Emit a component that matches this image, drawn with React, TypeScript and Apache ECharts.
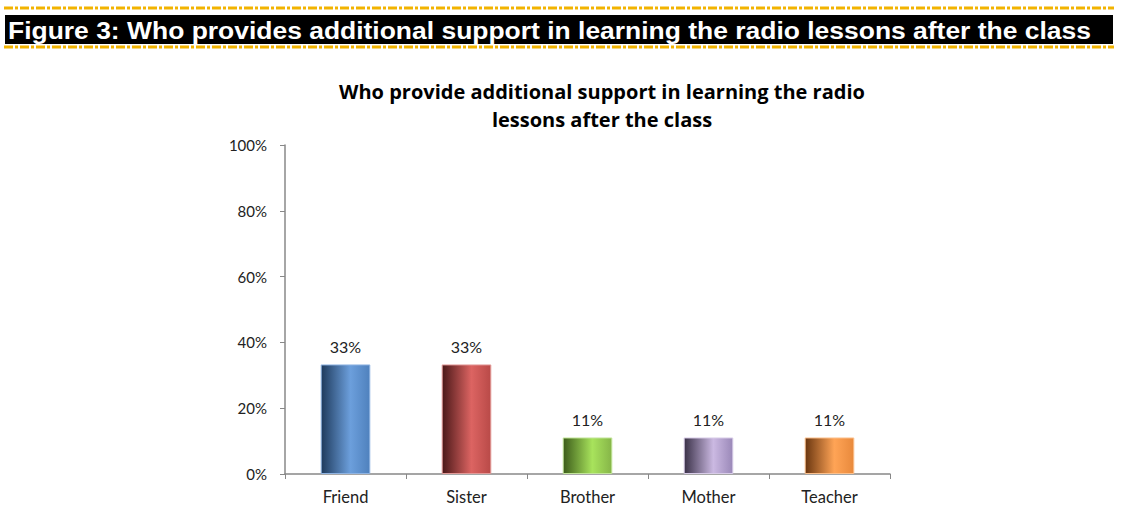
import React, { useEffect, useRef } from "react";
import * as echarts from "echarts";

const categories = ["Friend", "Sister", "Brother", "Mother", "Teacher"];
const values = [33.3, 33.3, 11.1, 11.1, 11.1];
const yTicks = [0, 20, 40, 60, 80, 100];
const figureTitle = "Figure 3: Who provides additional support in learning the radio lessons after the class";
const chartTitle = "Who provide additional support in learning the radio\nlessons after the class";

const barColors = [
  ["#1e3a5c", "#6c9fdc", "#4f81bd"],
  ["#4a1818", "#dc6462", "#b94a48"],
  ["#3c5c1a", "#a8e35c", "#86b548"],
  ["#3a3148", "#cbb9e2", "#9a88b8"],
  ["#6a3610", "#ffa456", "#e8893c"],
];
const borderColors = ["#8fb4e3", "#e39a98", "#c2e59a", "#d8cce8", "#fcc08c"];

const labelFont = "Lato, 'Open Sans', sans-serif";

export default function App() {
  const ref = useRef<HTMLDivElement>(null);
  useEffect(() => {
    const chart = echarts.init(ref.current!, null, { renderer: "svg" });
    const dash = (y: number) => ({
      type: "line",
      shape: { x1: 4, y1: y, x2: 1114, y2: y },
      style: { stroke: "#f2b300", lineWidth: 3, lineDash: [9, 2, 3, 2] },
    });
    chart.setOption({
      animation: false,
      graphic: [
        dash(8),
        dash(47),
        { type: "rect", shape: { x: 5, y: 15, width: 1108, height: 29 }, style: { fill: "#000" } },
        {
          type: "text",
          x: 8,
          y: 30,
          scaleX: 1.08,
          style: {
            text: figureTitle,
            fill: "#fff",
            font: "bold 24.5px 'Liberation Sans', Arial, sans-serif",
            verticalAlign: "middle",
          },
        },
      ],
      title: {
        text: chartTitle,
        left: 597,
        textAlign: "center",
        top: 72,
        textStyle: {
          fontFamily: "'Open Sans', sans-serif",
          fontWeight: "bold",
          fontSize: 20,
          lineHeight: 28,
          color: "#000",
        },
      },
      grid: { left: 285, right: 234, top: 145, bottom: 46, containLabel: false },
      xAxis: {
        type: "category",
        data: categories,
        axisLine: { lineStyle: { color: "#888", width: 1.5 } },
        axisTick: { show: true, length: 5, lineStyle: { color: "#888" } },
        axisLabel: { color: "#222", fontSize: 16.5, fontFamily: labelFont, margin: 14 },
      },
      yAxis: {
        type: "value",
        min: 0,
        max: 100,
        interval: 20,
        splitLine: { show: false },
        axisLine: { show: true, lineStyle: { color: "#888", width: 1.5 } },
        axisTick: { show: true, length: 5, inside: false, lineStyle: { color: "#888" } },
        axisLabel: {
          color: "#222",
          fontSize: 15,
          fontFamily: labelFont,
          margin: 18,
          formatter: (v: number) => (yTicks.includes(v) ? v + "%" : ""),
        },
      },
      series: [
        {
          type: "bar",
          barWidth: "41%",
          data: values.map((v, i) => ({
            value: v,
            itemStyle: {
              color: new echarts.graphic.LinearGradient(0, 0, 1, 0, [
                { offset: 0, color: barColors[i][0] },
                { offset: 0.6, color: barColors[i][1] },
                { offset: 1, color: barColors[i][2] },
              ]),
              borderColor: borderColors[i],
              borderWidth: 1,
            },
          })),
          label: {
            show: true,
            position: "top",
            distance: 10,
            color: "#222",
            fontSize: 16,
            fontFamily: labelFont,
            formatter: (p: any) => Math.round(p.value) + "%",
          },
        },
      ],
    });
    return () => chart.dispose();
  }, []);
  return (
    <div
      ref={ref}
      style={{ position: "fixed", left: 0, top: 0, width: 1124, height: 520, background: "#fff" }}
    />
  );
}
